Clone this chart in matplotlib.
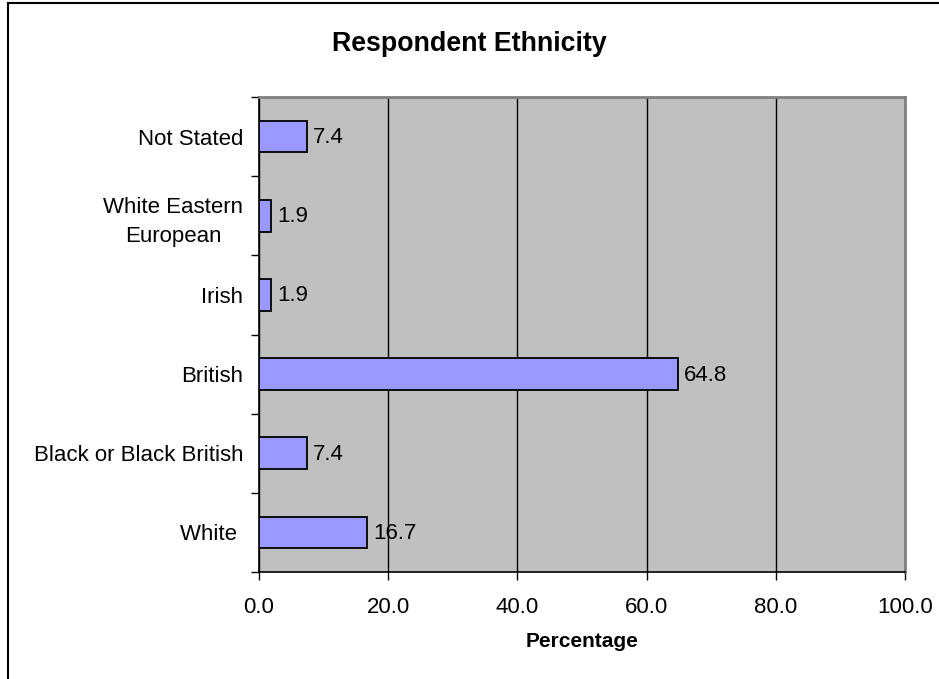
import matplotlib.pyplot as plt
from matplotlib.lines import Line2D
from matplotlib.ticker import FixedLocator

plt.rcParams['font.family'] = ['Liberation Sans', 'DejaVu Sans']

# bottom to top, same order as the chart
categories = ["White ", "Black or Black British", "British", "Irish",
              "White Eastern\nEuropean", "Not Stated"]
percentages = [16.7, 7.4, 64.8, 1.9, 1.9, 7.4]
x_ticks = [0, 20, 40, 60, 80, 100]

W, H = 939, 679
fig = plt.figure(figsize=(W / 100, H / 100), dpi=100)
ax = fig.add_axes([259 / W, 1 - 572 / H, (905 - 259) / W, (572 - 97) / H])

ax.set_facecolor('#c0c0c0')
pos = list(range(len(categories)))
ax.barh(pos, percentages, height=0.4, color='#9999ff', edgecolor='black',
        linewidth=1.3, zorder=3)

for p, v in zip(pos, percentages):
    ax.annotate(f"{v:.1f}", (v, p), xytext=(6, -1), textcoords='offset pixels',
                ha='left', va='center', fontsize=16, zorder=4)

ax.set_xlim(0, 100)
ax.set_ylim(-0.5, len(categories) - 0.5)
ax.set_xticks(x_ticks)
ax.set_xticklabels([f"{t:.1f}" for t in x_ticks])
ax.xaxis.grid(True, color='black', linewidth=1.0, zorder=1)
ax.set_axisbelow(True)

ax.set_yticks(pos)
ax.set_yticklabels(categories, multialignment='center', linespacing=1.5)
ax.yaxis.set_minor_locator(FixedLocator([i - 0.5 for i in range(len(categories) + 1)]))
ax.tick_params(axis='y', which='major', length=0, pad=11.5, labelsize=16)
ax.tick_params(axis='y', which='minor', length=6, width=1, direction='out')
ax.tick_params(axis='x', which='major', length=6, width=1, direction='out',
               pad=12, labelsize=16)

for side in ('top', 'right'):
    ax.spines[side].set_color('#808080')
    ax.spines[side].set_linewidth(2)
for side in ('left', 'bottom'):
    ax.spines[side].set_color('black')
    ax.spines[side].set_linewidth(1.2)

ax.set_xlabel("Percentage", fontsize=15, fontweight='bold', labelpad=10)
fig.text(0.5, 1 - 44 / H, "Respondent Ethnicity", ha='center', va='center',
         fontsize=19.3, fontweight='bold')

# chart frame (left and top edges)
fig.add_artist(Line2D([8 / W, 8 / W], [0, 1 - 3 / H], color='black', linewidth=1.5))
fig.add_artist(Line2D([8 / W, 1], [1 - 3 / H, 1 - 3 / H], color='black', linewidth=1.5))

fig.savefig("out.png", dpi=100)
